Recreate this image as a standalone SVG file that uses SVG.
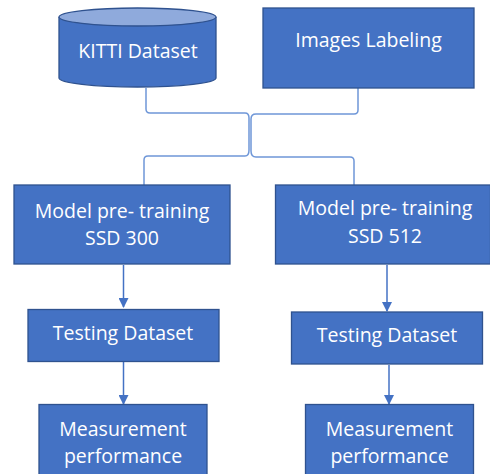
<svg xmlns="http://www.w3.org/2000/svg" width="490" height="474" viewBox="0 0 490 474">
<defs>
<style>
.box{fill:#4472C4;stroke:#2F528F;stroke-width:1.3}
.t{font-family:"Open Sans","Liberation Sans",sans-serif;font-size:19.5px;fill:#FFFFFF;text-anchor:middle}
.c{fill:none;stroke:#6F97D8;stroke-width:1.5}
.a{fill:none;stroke:#4472C4;stroke-width:1.5}
</style>
<marker id="ah" markerWidth="10" markerHeight="10" refX="9" refY="5" orient="auto" markerUnits="userSpaceOnUse">
<path d="M0,0 L10,5 L0,10 Z" fill="#4472C4"/>
</marker>
</defs>
<rect width="490" height="474" fill="#FFFFFF"/>
<g id="connectors">
<path class="c" d="M146,88 V109 Q146,113 150,113 H245 Q249,113 249,118 V150 Q249,156 245,156 H148 Q144,156 144,160 V185"/>
<path class="c" d="M358,88 V110 Q358,114 354,114 H256 Q251,114 251,119 V151 Q251,157 256,157 H350 Q354,157 354,161 V185"/>
<path class="a" d="M123.5,265 V307" marker-end="url(#ah)"/>
<path class="a" d="M387,265 V311" marker-end="url(#ah)"/>
<path class="a" d="M123.5,362 V404" marker-end="url(#ah)"/>
<path class="a" d="M389,365 V404" marker-end="url(#ah)"/>
</g>
<g id="kitti">
<path class="box" d="M59,17 V78 A78.5,9 0 0 0 216,78 V17"/>
<ellipse cx="137.5" cy="17" rx="78.5" ry="9" fill="#8FAADC" stroke="#2F528F" stroke-width="1.3"/>
<text class="t" x="138" y="58">KITTI Dataset</text>
</g>
<g id="labeling">
<rect class="box" x="263" y="8" width="211" height="80"/>
<text class="t" x="368.5" y="47">Images Labeling</text>
</g>
<g id="model300">
<rect class="box" x="14" y="185" width="216" height="79"/>
<text class="t" x="122" y="218">Model pre- training</text>
<text class="t" x="122" y="245">SSD 300</text>
</g>
<g id="model512">
<rect class="box" x="275.5" y="185" width="215" height="79"/>
<text class="t" x="385" y="215">Model pre- training</text>
<text class="t" x="385" y="243">SSD 512</text>
</g>
<g id="test300">
<rect class="box" x="28" y="309.5" width="191" height="52"/>
<text class="t" x="123" y="340">Testing Dataset</text>
</g>
<g id="test512">
<rect class="box" x="291.5" y="312" width="191" height="52"/>
<text class="t" x="387" y="342">Testing Dataset</text>
</g>
<g id="meas300">
<rect class="box" x="39" y="404.5" width="168" height="75"/>
<text class="t" x="123" y="436">Measurement</text>
<text class="t" x="123" y="463">performance</text>
</g>
<g id="meas512">
<rect class="box" x="305.5" y="404.5" width="168" height="75"/>
<text class="t" x="389.5" y="436">Measurement</text>
<text class="t" x="389.5" y="463">performance</text>
</g>
</svg>
